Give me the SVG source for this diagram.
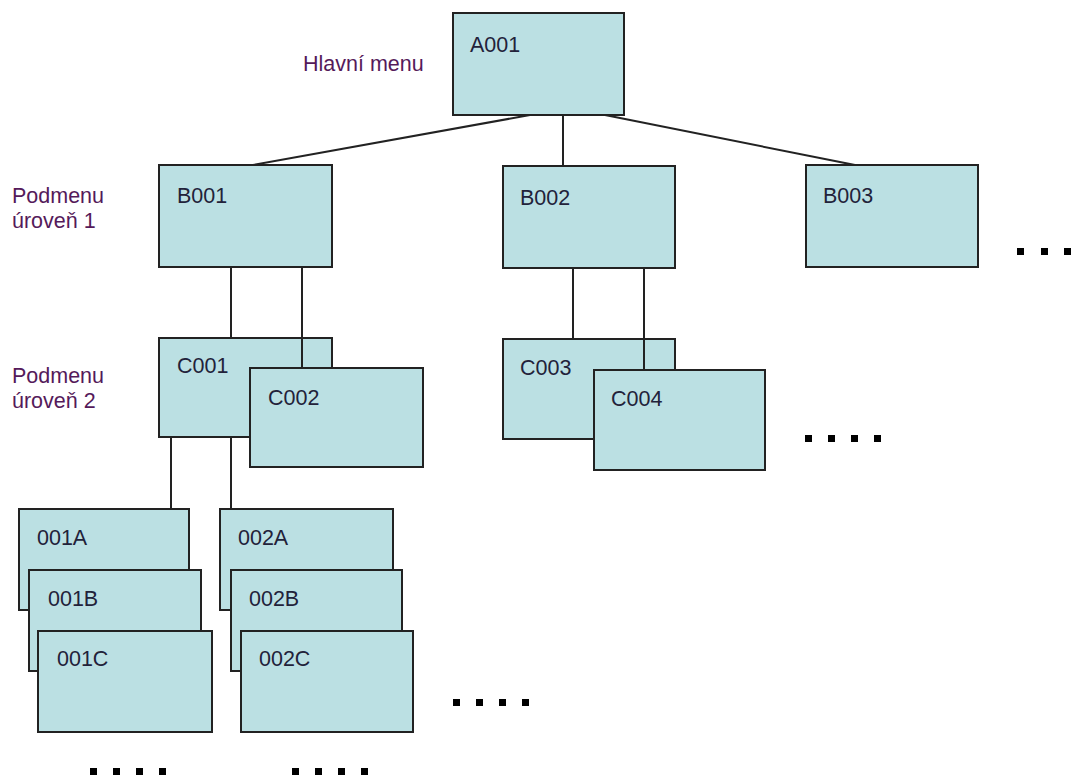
<svg xmlns="http://www.w3.org/2000/svg" width="1085" height="778" viewBox="0 0 1085 778">
<style>
.box{fill:#bbe0e3;stroke:#222;stroke-width:2}
.t{font-family:"Liberation Sans",Arial,sans-serif;font-size:21.5px;fill:#22223a}
.lbl{font-family:"Liberation Sans",Arial,sans-serif;font-size:21.5px;fill:#551a5a}
.c{stroke:#222;stroke-width:2;fill:none}
.dot{fill:#000}
</style>
<rect width="1085" height="778" fill="#fff"/>
<g id="labels">
<text class="lbl" x="303" y="71">Hlavní menu</text>
<text class="lbl" x="12" y="203">Podmenu</text>
<text class="lbl" x="12" y="228">úroveň 1</text>
<text class="lbl" x="12" y="383">Podmenu</text>
<text class="lbl" x="12" y="408">úroveň 2</text>
</g>
<g id="connectors">
<line class="c" x1="530" y1="115" x2="253" y2="165"/>
<line class="c" x1="563" y1="115" x2="563" y2="166"/>
<line class="c" x1="605" y1="115" x2="855" y2="165"/>
<line class="c" x1="231" y1="267" x2="231" y2="338"/>
<line class="c" x1="302" y1="267" x2="302" y2="368"/>
<line class="c" x1="573" y1="268" x2="573" y2="339"/>
<line class="c" x1="644" y1="268" x2="644" y2="370"/>
<line class="c" x1="171" y1="437" x2="171" y2="509"/>
<line class="c" x1="231" y1="437" x2="231" y2="509"/>
</g>
<g id="A001"><rect class="box" x="453" y="13" width="171" height="102"/><text class="t" x="470" y="52">A001</text></g>
<g id="B001"><rect class="box" x="159" y="165" width="173" height="102"/><text class="t" x="177" y="203">B001</text></g>
<g id="B002"><rect class="box" x="503" y="166" width="172" height="102"/><text class="t" x="520" y="205">B002</text></g>
<g id="B003"><rect class="box" x="806" y="165" width="172" height="102"/><text class="t" x="823" y="203">B003</text></g>
<g id="C001"><rect class="box" x="159" y="338" width="173" height="99"/><text class="t" x="177" y="373">C001</text></g>
<line class="c" x1="302" y1="338" x2="302" y2="368"/>
<g id="C002"><rect class="box" x="250" y="368" width="173" height="99"/><text class="t" x="268" y="405">C002</text></g>
<g id="C003"><rect class="box" x="503" y="339" width="172" height="100"/><text class="t" x="520" y="375">C003</text></g>
<line class="c" x1="644" y1="339" x2="644" y2="370"/>
<g id="C004"><rect class="box" x="594" y="370" width="171" height="100"/><text class="t" x="611" y="406">C004</text></g>
<g id="n001A"><rect class="box" x="19" y="509" width="170" height="101"/><text class="t" x="37" y="545">001A</text></g>
<g id="n001B"><rect class="box" x="29" y="570" width="172" height="101"/><text class="t" x="48" y="606">001B</text></g>
<g id="n001C"><rect class="box" x="38" y="631" width="174" height="101"/><text class="t" x="57" y="666">001C</text></g>
<g id="n002A"><rect class="box" x="220" y="509" width="173" height="101"/><text class="t" x="238" y="545">002A</text></g>
<g id="n002B"><rect class="box" x="231" y="570" width="171" height="101"/><text class="t" x="249" y="606">002B</text></g>
<g id="n002C"><rect class="box" x="241" y="631" width="172" height="101"/><text class="t" x="259" y="666">002C</text></g>
<g id="ellipses">
<rect class="dot" x="1017" y="248" width="7" height="7"/>
<rect class="dot" x="1041" y="248" width="7" height="7"/>
<rect class="dot" x="1064" y="248" width="7" height="7"/>
<rect class="dot" x="805" y="435" width="7" height="7"/>
<rect class="dot" x="828" y="435" width="7" height="7"/>
<rect class="dot" x="851" y="435" width="7" height="7"/>
<rect class="dot" x="874" y="435" width="7" height="7"/>
<rect class="dot" x="453" y="699" width="7" height="7"/>
<rect class="dot" x="476" y="699" width="7" height="7"/>
<rect class="dot" x="499" y="699" width="7" height="7"/>
<rect class="dot" x="522" y="699" width="7" height="7"/>
<rect class="dot" x="90" y="768" width="7" height="7"/>
<rect class="dot" x="113" y="768" width="7" height="7"/>
<rect class="dot" x="136" y="768" width="7" height="7"/>
<rect class="dot" x="159" y="768" width="7" height="7"/>
<rect class="dot" x="292" y="768" width="7" height="7"/>
<rect class="dot" x="315" y="768" width="7" height="7"/>
<rect class="dot" x="338" y="768" width="7" height="7"/>
<rect class="dot" x="361" y="768" width="7" height="7"/>
</g>
</svg>
